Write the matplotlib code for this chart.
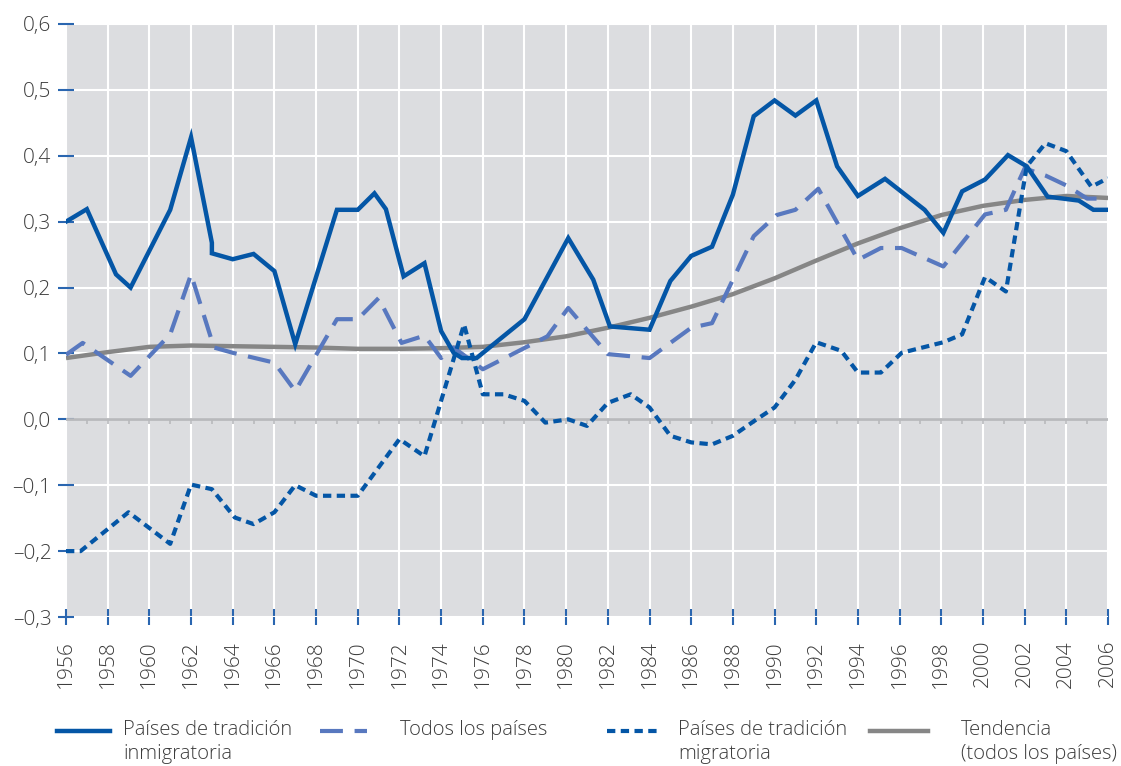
import matplotlib
matplotlib.use("Agg")
import matplotlib.pyplot as plt
from matplotlib.lines import Line2D
import numpy as np

# ---------------- data ----------------
inm_years = [1956, 1957, 1958.4, 1959.1, 1961, 1962, 1963, 1963, 1964, 1965, 1966, 1967,
             1969, 1970, 1970.8, 1971.35, 1972.2, 1973.2, 1974, 1974.6, 1975, 1975.7,
             1978, 1980.1, 1981.3, 1982.1, 1984, 1985, 1986, 1987, 1988, 1989, 1990,
             1991, 1992, 1993, 1994, 1995.3, 1997.2, 1998.1, 1999, 2000.1, 2001.2,
             2002.1, 2003.1, 2004.6, 2005.3, 2006]
inm_values = [0.300, 0.319, 0.220, 0.200, 0.318, 0.428, 0.268, 0.252, 0.243, 0.251, 0.225, 0.114,
              0.318, 0.318, 0.343, 0.319, 0.217, 0.237, 0.134, 0.101, 0.093, 0.093,
              0.152, 0.275, 0.212, 0.141, 0.136, 0.210, 0.248, 0.262, 0.341, 0.460, 0.484,
              0.461, 0.484, 0.384, 0.339, 0.365, 0.318, 0.283, 0.346, 0.364, 0.401,
              0.384, 0.338, 0.332, 0.318, 0.318]

todos_years = [1956, 1956.8, 1959.1, 1961, 1962, 1963.1, 1964, 1966, 1967, 1969, 1970, 1971,
               1972.1, 1973.2, 1974, 1974.6, 1976, 1979.1, 1980.1, 1982, 1984, 1986, 1987,
               1989, 1990.1, 1991, 1992.1, 1994, 1995.1, 1996.1, 1998.1, 2000.1, 2001.1,
               2002, 2003, 2004, 2005, 2006]
todos_values = [0.098, 0.116, 0.066, 0.129, 0.220, 0.109, 0.101, 0.086, 0.043, 0.152, 0.152, 0.184,
                0.116, 0.127, 0.093, 0.109, 0.076, 0.126, 0.169, 0.099, 0.093, 0.139, 0.146,
                0.278, 0.310, 0.318, 0.350, 0.242, 0.260, 0.260, 0.232, 0.311, 0.318,
                0.381, 0.370, 0.355, 0.335, 0.335]

mig_years = [1956, 1956.7, 1959, 1961, 1962, 1963, 1964.1, 1965, 1966, 1967, 1968, 1970,
             1972, 1973.2, 1975.1, 1976, 1977, 1978, 1979, 1980.1, 1981, 1982, 1983.1,
             1984, 1985, 1986, 1987, 1988, 1989, 1990, 1991, 1992, 1993.2, 1994, 1995.1,
             1996.1, 1997.1, 1998.1, 1999, 2000.1, 2001.1, 2002.1, 2003, 2004, 2005.2, 2006]
mig_values = [-0.200, -0.200, -0.141, -0.189, -0.099, -0.106, -0.149, -0.159, -0.141, -0.100, -0.116, -0.116,
              -0.030, -0.056, 0.144, 0.038, 0.038, 0.028, -0.005, 0.000, -0.010, 0.025, 0.038,
              0.018, -0.025, -0.035, -0.038, -0.025, -0.003, 0.018, 0.060, 0.117, 0.104, 0.071, 0.071,
              0.101, 0.109, 0.117, 0.129, 0.216, 0.194, 0.384, 0.419, 0.407, 0.353, 0.366]

trend_years = list(range(1956, 2007, 2))
trend_values = [0.093, 0.102, 0.110, 0.112, 0.111, 0.110, 0.109, 0.107, 0.107, 0.108, 0.110,
                0.117, 0.126, 0.139, 0.154, 0.171, 0.190, 0.214, 0.241, 0.267, 0.290,
                0.310, 0.324, 0.333, 0.339, 0.336]

x_ticks = list(range(1956, 2007, 2))
y_ticks = [-0.3, -0.2, -0.1, 0.0, 0.1, 0.2, 0.3, 0.4, 0.5, 0.6]
y_tick_labels = ["\u20130,3", "\u20130,2", "\u20130,1", "0,0", "0,1", "0,2", "0,3", "0,4", "0,5", "0,6"]

legend_labels = ["Países de tradición\ninmigratoria", "Todos los países",
                 "Países de tradición\nmigratoria", "Tendencia\n(todos los países)"]

# ---------------- style ----------------
DARK = "#0456a6"
LIGHT = "#5878bf"
GRAY = "#868686"
BG = "#dcdde0"
TXT = "#3c3c3c"
TICK = "#2a66b0"
FONT = "Open Sans"

plt.rcParams["font.family"] = [FONT, "DejaVu Sans"]
plt.rcParams["font.weight"] = "light"

W, H = 1121, 766
fig = plt.figure(figsize=(W / 100, H / 100), dpi=100)
ax = fig.add_axes([66 / W, 1 - 617 / H, (1108 - 66) / W, (617 - 24) / H])
ax.set_facecolor(BG)
ax.set_xlim(1956, 2006)
ax.set_ylim(-0.3, 0.6)
for s in ax.spines.values():
    s.set_visible(False)

ax.set_xticks(x_ticks)
ax.set_yticks(y_ticks)
ax.set_yticklabels(y_tick_labels)
ax.grid(True, color="white", lw=1.5)
ax.set_axisbelow(True)
ax.tick_params(axis="both", direction="inout", length=11, width=1.5, color=TICK,
               labelcolor=TXT, labelsize=15)
ax.tick_params(axis="y", pad=5)
ax.tick_params(axis="x", pad=11, labelrotation=90)

# zero line with small yearly ticks
ax.axhline(0, color="#b8b9bc", lw=2, zorder=1.5)
ax.vlines(np.arange(1957, 2006), -0.007, 0, color="#b8b9bc", lw=1.2, zorder=1.5)

# series
ax.plot(trend_years, trend_values, color=GRAY, lw=3.2, solid_capstyle="butt", zorder=3)
ax.plot(todos_years, todos_values, color=LIGHT, lw=3.0, dashes=(5.5, 2.8), zorder=4)
ax.plot(mig_years, mig_values, color=DARK, lw=3.0, dashes=(2.0, 1.3), zorder=5)
ax.plot(inm_years, inm_values, color=DARK, lw=3.2, solid_joinstyle="miter", zorder=6)

# legend (manual)
def fx(px):
    return px / W

def fy(py):
    return 1 - py / H

handles = [
    dict(x0=57, x1=110, color=DARK, ls=dict(), lw=3.2),
    dict(x0=320, x1=367, color=LIGHT, ls=dict(dashes=(5.5, 2.8)), lw=3.0),
    dict(x0=607, x1=660, color=DARK, ls=dict(dashes=(2.0, 1.3)), lw=3.0),
    dict(x0=870, x1=928, color=GRAY, ls=dict(), lw=3.2),
]
label_x = [123, 400, 678, 961]
for h, lx, lab in zip(handles, label_x, legend_labels):
    fig.add_artist(Line2D([fx(h["x0"]), fx(h["x1"])], [fy(731), fy(731)],
                          color=h["color"], lw=h["lw"], **h["ls"]))
    fig.text(fx(lx), fy(720), lab, ha="left", va="top", fontsize=14.5,
             color=TXT, linespacing=1.3)

fig.savefig("out.png", dpi=100, facecolor="white")
